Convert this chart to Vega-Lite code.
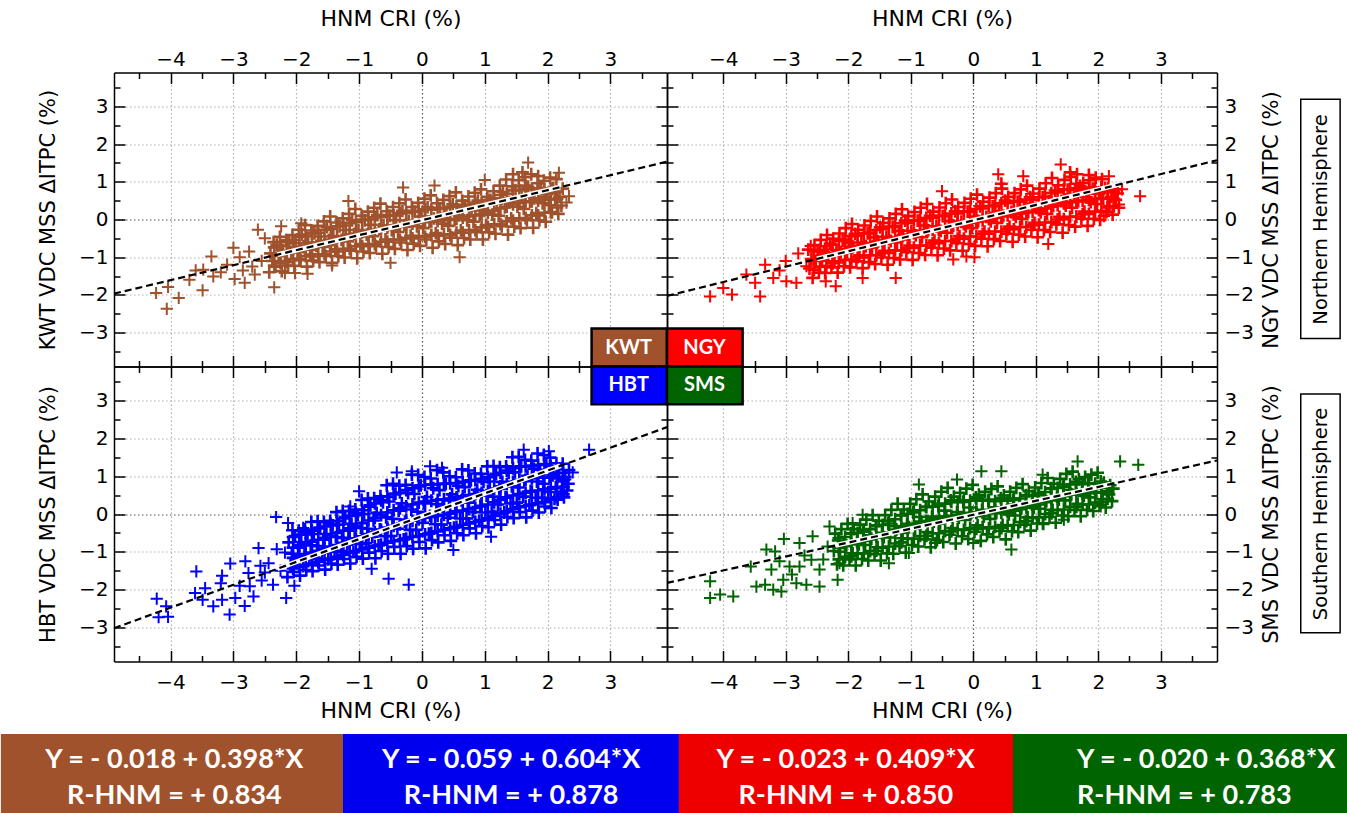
{
"$schema": "https://vega.github.io/schema/vega-lite/v6.json",
"padding": {"left": 0, "top": 7.5, "right": 0, "bottom": 0},
"background": "white",
"bounds": "flush",
"spacing": 0,
"columns": 2,
"config": {
 "view": {"stroke": null},
 "font": "DejaVu Sans",
 "axis": {"labelFont": "DejaVu Sans", "titleFont": "DejaVu Sans", "labelColor": "black", "titleColor": "black", "titleFontWeight": "normal", "domainColor": "black", "domainWidth": 1.5, "tickColor": "black", "tickWidth": 1.5, "labelFontSize": 20, "titleFontSize": 21, "labelOverlap": false, "labelFlush": false, "labelBound": false, "grid": false}
},
"datasets": {
"kwt": [
{"x":-2.43,"y":-1.4},{"x":-2.38,"y":-1.1},{"x":-2.41,"y":-0.9},{"x":-2.36,"y":-0.6},
{"x":-2.33,"y":-1.25},{"x":-2.28,"y":-0.94},{"x":-2.31,"y":-0.67},{"x":-2.26,"y":-0.46},
{"x":-2.23,"y":-1.37},{"x":-2.18,"y":-1.1},{"x":-2.21,"y":-0.83},{"x":-2.16,"y":-0.55},
{"x":-2.13,"y":-1.22},{"x":-2.08,"y":-0.87},{"x":-2.11,"y":-0.59},{"x":-2.06,"y":-0.41},
{"x":-2.03,"y":-1.23},{"x":-1.98,"y":-0.87},{"x":-2.01,"y":-0.63},{"x":-1.96,"y":-0.27},
{"x":-1.93,"y":-1.08},{"x":-1.88,"y":-0.71},{"x":-1.91,"y":-0.4},{"x":-1.86,"y":-0.15},
{"x":-1.83,"y":-1.25},{"x":-1.78,"y":-0.93},{"x":-1.81,"y":-0.61},{"x":-1.76,"y":-0.29},
{"x":-1.73,"y":-1.09},{"x":-1.68,"y":-0.7},{"x":-1.71,"y":-0.37},{"x":-1.66,"y":-0.17},
{"x":-1.63,"y":-1.13},{"x":-1.58,"y":-0.73},{"x":-1.61,"y":-0.45},{"x":-1.56,"y":-0.05},
{"x":-1.53,"y":-0.97},{"x":-1.48,"y":-0.55},{"x":-1.51,"y":-0.2},{"x":-1.46,"y":0.08},
{"x":-1.43,"y":-1.15},{"x":-1.38,"y":-0.79},{"x":-1.41,"y":-0.44},{"x":-1.36,"y":-0.08},
{"x":-1.33,"y":-0.97},{"x":-1.28,"y":-0.54},{"x":-1.31,"y":-0.18},{"x":-1.26,"y":0.03},
{"x":-1.23,"y":-1.01},{"x":-1.18,"y":-0.58},{"x":-1.21,"y":-0.28},{"x":-1.16,"y":0.15},
{"x":-1.13,"y":-0.83},{"x":-1.08,"y":-0.39},{"x":-1.11,"y":-0.02},{"x":-1.06,"y":0.28},
{"x":-1.03,"y":-1.03},{"x":-0.98,"y":-0.65},{"x":-1.01,"y":-0.28},{"x":-0.96,"y":0.1},
{"x":-0.93,"y":-0.85},{"x":-0.88,"y":-0.4},{"x":-0.91,"y":-0.02},{"x":-0.86,"y":0.21},
{"x":-0.83,"y":-0.89},{"x":-0.78,"y":-0.44},{"x":-0.81,"y":-0.14},{"x":-0.76,"y":0.31},
{"x":-0.73,"y":-0.71},{"x":-0.68,"y":-0.26},{"x":-0.71,"y":0.12},{"x":-0.66,"y":0.42},
{"x":-0.63,"y":-0.91},{"x":-0.58,"y":-0.53},{"x":-0.61,"y":-0.16},{"x":-0.56,"y":0.22},
{"x":-0.53,"y":-0.73},{"x":-0.48,"y":-0.28},{"x":-0.51,"y":0.1},{"x":-0.46,"y":0.33},
{"x":-0.43,"y":-0.78},{"x":-0.38,"y":-0.33},{"x":-0.41,"y":-0.02},{"x":-0.36,"y":0.43},
{"x":-0.33,"y":-0.61},{"x":-0.28,"y":-0.15},{"x":-0.31,"y":0.23},{"x":-0.26,"y":0.53},
{"x":-0.23,"y":-0.81},{"x":-0.18,"y":-0.43},{"x":-0.21,"y":-0.05},{"x":-0.16,"y":0.33},
{"x":-0.13,"y":-0.64},{"x":-0.08,"y":-0.18},{"x":-0.11,"y":0.21},{"x":-0.06,"y":0.44},
{"x":-0.03,"y":-0.7},{"x":0.02,"y":-0.23},{"x":-0.01,"y":0.08},{"x":0.04,"y":0.55},
{"x":0.07,"y":-0.53},{"x":0.12,"y":-0.06},{"x":0.09,"y":0.33},{"x":0.14,"y":0.64},
{"x":0.17,"y":-0.75},{"x":0.22,"y":-0.36},{"x":0.19,"y":0.03},{"x":0.24,"y":0.43},
{"x":0.27,"y":-0.58},{"x":0.32,"y":-0.11},{"x":0.29,"y":0.29},{"x":0.34,"y":0.52},
{"x":0.37,"y":-0.65},{"x":0.42,"y":-0.17},{"x":0.39,"y":0.14},{"x":0.44,"y":0.62},
{"x":0.47,"y":-0.48},{"x":0.52,"y":0.0},{"x":0.49,"y":0.4},{"x":0.54,"y":0.72},
{"x":0.57,"y":-0.68},{"x":0.62,"y":-0.29},{"x":0.59,"y":0.11},{"x":0.64,"y":0.5},
{"x":0.67,"y":-0.49},{"x":0.72,"y":-0.02},{"x":0.69,"y":0.37},{"x":0.74,"y":0.61},
{"x":0.77,"y":-0.53},{"x":0.82,"y":-0.06},{"x":0.79,"y":0.24},{"x":0.84,"y":0.71},
{"x":0.87,"y":-0.34},{"x":0.92,"y":0.12},{"x":0.89,"y":0.5},{"x":0.94,"y":0.8},
{"x":0.97,"y":-0.53},{"x":1.02,"y":-0.15},{"x":0.99,"y":0.23},{"x":1.04,"y":0.6},
{"x":1.07,"y":-0.34},{"x":1.12,"y":0.13},{"x":1.09,"y":0.52},{"x":1.14,"y":0.75},
{"x":1.17,"y":-0.38},{"x":1.22,"y":0.1},{"x":1.19,"y":0.42},{"x":1.24,"y":0.9},
{"x":1.27,"y":-0.18},{"x":1.32,"y":0.32},{"x":1.29,"y":0.73},{"x":1.34,"y":1.06},
{"x":1.37,"y":-0.4},{"x":1.42,"y":0.03},{"x":1.39,"y":0.46},{"x":1.44,"y":0.88},
{"x":1.47,"y":-0.19},{"x":1.52,"y":0.34},{"x":1.49,"y":0.78},{"x":1.54,"y":1.04},
{"x":1.57,"y":-0.23},{"x":1.62,"y":0.28},{"x":1.59,"y":0.61},{"x":1.64,"y":1.12},
{"x":1.67,"y":-0.02},{"x":1.72,"y":0.47},{"x":1.69,"y":0.87},{"x":1.74,"y":1.2},
{"x":1.77,"y":-0.22},{"x":1.82,"y":0.17},{"x":1.79,"y":0.56},{"x":1.84,"y":0.96},
{"x":1.87,"y":-0.02},{"x":1.92,"y":0.43},{"x":1.89,"y":0.81},{"x":1.94,"y":1.03},
{"x":1.97,"y":-0.06},{"x":2.02,"y":0.38},{"x":1.99,"y":0.67},{"x":2.04,"y":1.11},
{"x":2.07,"y":0.19},{"x":2.12,"y":0.54},{"x":2.09,"y":0.84},{"x":2.14,"y":1.07},
{"x":2.17,"y":0.15},{"x":2.22,"y":0.37},{"x":2.19,"y":0.6},{"x":2.24,"y":0.82},
{"x":-2.35,"y":-1.22},{"x":-2.35,"y":-0.97},{"x":-2.35,"y":-0.74},
{"x":-2.25,"y":-1.15},{"x":-2.25,"y":-0.91},{"x":-2.25,"y":-0.7},
{"x":-2.15,"y":-1.13},{"x":-2.15,"y":-0.85},{"x":-2.15,"y":-0.6},
{"x":-2.05,"y":-1.05},{"x":-2.05,"y":-0.78},{"x":-2.05,"y":-0.55},
{"x":-1.95,"y":-1.04},{"x":-1.95,"y":-0.73},{"x":-1.95,"y":-0.46},
{"x":-1.85,"y":-0.97},{"x":-1.85,"y":-0.69},{"x":-1.85,"y":-0.44},
{"x":-1.75,"y":-0.98},{"x":-1.75,"y":-0.65},{"x":-1.75,"y":-0.36},
{"x":-1.65,"y":-0.92},{"x":-1.65,"y":-0.61},{"x":-1.65,"y":-0.35},
{"x":-1.55,"y":-0.92},{"x":-1.55,"y":-0.57},{"x":-1.55,"y":-0.27},
{"x":-1.45,"y":-0.85},{"x":-1.45,"y":-0.53},{"x":-1.45,"y":-0.25},
{"x":-1.35,"y":-0.85},{"x":-1.35,"y":-0.49},{"x":-1.35,"y":-0.18},
{"x":-1.25,"y":-0.78},{"x":-1.25,"y":-0.45},{"x":-1.25,"y":-0.16},
{"x":-1.15,"y":-0.78},{"x":-1.15,"y":-0.41},{"x":-1.15,"y":-0.09},
{"x":-1.05,"y":-0.71},{"x":-1.05,"y":-0.37},{"x":-1.05,"y":-0.07},
{"x":-0.95,"y":-0.71},{"x":-0.95,"y":-0.34},{"x":-0.95,"y":0.0},
{"x":-0.85,"y":-0.65},{"x":-0.85,"y":-0.31},{"x":-0.85,"y":0.0},
{"x":-0.75,"y":-0.65},{"x":-0.75,"y":-0.28},{"x":-0.75,"y":0.06},
{"x":-0.65,"y":-0.59},{"x":-0.65,"y":-0.25},{"x":-0.65,"y":0.06},
{"x":-0.55,"y":-0.59},{"x":-0.55,"y":-0.22},{"x":-0.55,"y":0.12},
{"x":-0.45,"y":-0.53},{"x":-0.45,"y":-0.19},{"x":-0.45,"y":0.11},
{"x":-0.35,"y":-0.54},{"x":-0.35,"y":-0.16},{"x":-0.35,"y":0.17},
{"x":-0.25,"y":-0.49},{"x":-0.25,"y":-0.14},{"x":-0.25,"y":0.17},
{"x":-0.15,"y":-0.5},{"x":-0.15,"y":-0.11},{"x":-0.15,"y":0.23},
{"x":-0.05,"y":-0.44},{"x":-0.05,"y":-0.09},{"x":-0.05,"y":0.22},
{"x":0.05,"y":-0.46},{"x":0.05,"y":-0.07},{"x":0.05,"y":0.27},
{"x":0.15,"y":-0.41},{"x":0.15,"y":-0.05},{"x":0.15,"y":0.26},
{"x":0.25,"y":-0.43},{"x":0.25,"y":-0.04},{"x":0.25,"y":0.31},
{"x":0.35,"y":-0.39},{"x":0.35,"y":-0.02},{"x":0.35,"y":0.3},
{"x":0.45,"y":-0.41},{"x":0.45,"y":-0.01},{"x":0.45,"y":0.34},
{"x":0.55,"y":-0.35},{"x":0.55,"y":0.02},{"x":0.55,"y":0.34},
{"x":0.65,"y":-0.35},{"x":0.65,"y":0.05},{"x":0.65,"y":0.39},
{"x":0.75,"y":-0.28},{"x":0.75,"y":0.08},{"x":0.75,"y":0.39},
{"x":0.85,"y":-0.28},{"x":0.85,"y":0.11},{"x":0.85,"y":0.44},
{"x":0.95,"y":-0.21},{"x":0.95,"y":0.14},{"x":0.95,"y":0.44},
{"x":1.05,"y":-0.2},{"x":1.05,"y":0.18},{"x":1.05,"y":0.51},
{"x":1.15,"y":-0.13},{"x":1.15,"y":0.23},{"x":1.15,"y":0.55},
{"x":1.25,"y":-0.12},{"x":1.25,"y":0.29},{"x":1.25,"y":0.65},
{"x":1.35,"y":-0.05},{"x":1.35,"y":0.34},{"x":1.35,"y":0.68},
{"x":1.45,"y":-0.03},{"x":1.45,"y":0.4},{"x":1.45,"y":0.78},
{"x":1.55,"y":0.03},{"x":1.55,"y":0.44},{"x":1.55,"y":0.78},
{"x":1.65,"y":0.04},{"x":1.65,"y":0.46},{"x":1.65,"y":0.82},
{"x":1.75,"y":0.11},{"x":1.75,"y":0.48},{"x":1.75,"y":0.8},
{"x":1.85,"y":0.11},{"x":1.85,"y":0.5},{"x":1.85,"y":0.83},
{"x":1.95,"y":0.18},{"x":1.95,"y":0.52},{"x":1.95,"y":0.81},
{"x":2.05,"y":0.2},{"x":2.05,"y":0.53},{"x":2.05,"y":0.82},
{"x":2.15,"y":0.32},{"x":2.15,"y":0.55},{"x":2.15,"y":0.74},
{"x":-1.75,"y":-0.8},{"x":-1.45,"y":-0.68},{"x":-1.15,"y":-0.4},{"x":-0.85,"y":-0.45},{"x":-0.55,"y":-0.16},{"x":-0.25,"y":-0.2},{"x":0.05,"y":0.08},{"x":0.35,"y":0.04},{"x":0.65,"y":0.32},{"x":0.95,"y":0.28},{"x":1.25,"y":0.56},{"x":1.55,"y":0.52},{"x":1.85,"y":0.8},{"x":2.05,"y":0.72},{"x":1.65,"y":0.9},{"x":1.75,"y":0.7},{"x":1.95,"y":0.6},{"x":1.85,"y":1.15},{"x":1.6,"y":1.25},{"x":1.45,"y":1.2}
],
"kwtOut": [
{"x":-4.23,"y":-1.95},{"x":-4.06,"y":-2.37},{"x":-3.87,"y":-2.08},{"x":-4.04,"y":-1.79},{"x":-3.49,"y":-1.88},{"x":-3.6,"y":-1.35},{"x":-3.48,"y":-1.33},{"x":-3.32,"y":-1.51},{"x":-3.35,"y":-0.98},{"x":-2.98,"y":-1.58},{"x":-2.82,"y":-1.68},{"x":-2.66,"y":-1.46},{"x":-2.35,"y":-1.8},{"x":-2.18,"y":-1.42},{"x":-2.02,"y":-1.42},{"x":-1.82,"y":-1.44},{"x":-1.43,"y":-1.22},{"x":-2.61,"y":-0.27},{"x":-2.24,"y":-0.18},{"x":-1.92,"y":-0.1},{"x":-1.17,"y":0.49},{"x":2.34,"y":0.62},{"x":2.18,"y":1.24},{"x":1.69,"y":1.51},{"x":2.3,"y":0.45},{"x":-3.1,"y":-1.2},{"x":-2.9,"y":-1.0},{"x":-2.75,"y":-0.85},{"x":-3.0,"y":-0.75},{"x":-2.55,"y":-1.1},{"x":-2.7,"y":-1.25},{"x":-3.2,"y":-1.4},{"x":-3.7,"y":-1.6},{"x":-0.3,"y":0.85},{"x":0.6,"y":-1.0},{"x":-0.5,"y":-1.15},{"x":1.0,"y":1.05},{"x":0.2,"y":0.9},{"x":-2.5,"y":-0.5},{"x":-2.85,"y":-1.35}
],
"ngy": [
{"x":-2.57,"y":-1.55},{"x":-2.62,"y":-1.3},{"x":-2.59,"y":-1.05},{"x":-2.64,"y":-0.8},
{"x":-2.47,"y":-1.41},{"x":-2.52,"y":-1.1},{"x":-2.49,"y":-0.84},{"x":-2.54,"y":-0.68},
{"x":-2.37,"y":-1.42},{"x":-2.42,"y":-1.09},{"x":-2.39,"y":-0.87},{"x":-2.44,"y":-0.54},
{"x":-2.27,"y":-1.27},{"x":-2.32,"y":-0.93},{"x":-2.29,"y":-0.64},{"x":-2.34,"y":-0.41},
{"x":-2.17,"y":-1.41},{"x":-2.22,"y":-1.11},{"x":-2.19,"y":-0.81},{"x":-2.24,"y":-0.51},
{"x":-2.07,"y":-1.24},{"x":-2.12,"y":-0.87},{"x":-2.09,"y":-0.56},{"x":-2.14,"y":-0.37},
{"x":-1.97,"y":-1.27},{"x":-2.02,"y":-0.88},{"x":-1.99,"y":-0.62},{"x":-2.04,"y":-0.23},
{"x":-1.87,"y":-1.11},{"x":-1.92,"y":-0.72},{"x":-1.89,"y":-0.38},{"x":-1.94,"y":-0.12},
{"x":-1.77,"y":-1.29},{"x":-1.82,"y":-0.95},{"x":-1.79,"y":-0.61},{"x":-1.84,"y":-0.27},
{"x":-1.67,"y":-1.13},{"x":-1.72,"y":-0.71},{"x":-1.69,"y":-0.37},{"x":-1.74,"y":-0.16},
{"x":-1.57,"y":-1.18},{"x":-1.62,"y":-0.75},{"x":-1.59,"y":-0.47},{"x":-1.64,"y":-0.04},
{"x":-1.47,"y":-1.01},{"x":-1.52,"y":-0.58},{"x":-1.49,"y":-0.21},{"x":-1.54,"y":0.08},
{"x":-1.37,"y":-1.2},{"x":-1.42,"y":-0.83},{"x":-1.39,"y":-0.46},{"x":-1.44,"y":-0.09},
{"x":-1.27,"y":-1.02},{"x":-1.32,"y":-0.57},{"x":-1.29,"y":-0.2},{"x":-1.34,"y":0.03},
{"x":-1.17,"y":-1.06},{"x":-1.22,"y":-0.61},{"x":-1.19,"y":-0.3},{"x":-1.24,"y":0.15},
{"x":-1.07,"y":-0.87},{"x":-1.12,"y":-0.42},{"x":-1.09,"y":-0.03},{"x":-1.14,"y":0.27},
{"x":-0.97,"y":-1.07},{"x":-1.02,"y":-0.69},{"x":-0.99,"y":-0.3},{"x":-1.04,"y":0.09},
{"x":-0.87,"y":-0.89},{"x":-0.92,"y":-0.42},{"x":-0.89,"y":-0.03},{"x":-0.94,"y":0.2},
{"x":-0.77,"y":-0.94},{"x":-0.82,"y":-0.47},{"x":-0.79,"y":-0.16},{"x":-0.84,"y":0.31},
{"x":-0.67,"y":-0.75},{"x":-0.72,"y":-0.28},{"x":-0.69,"y":0.1},{"x":-0.74,"y":0.41},
{"x":-0.57,"y":-0.95},{"x":-0.62,"y":-0.56},{"x":-0.59,"y":-0.18},{"x":-0.64,"y":0.21},
{"x":-0.47,"y":-0.77},{"x":-0.52,"y":-0.3},{"x":-0.49,"y":0.09},{"x":-0.54,"y":0.32},
{"x":-0.37,"y":-0.82},{"x":-0.42,"y":-0.35},{"x":-0.39,"y":-0.04},{"x":-0.44,"y":0.43},
{"x":-0.27,"y":-0.63},{"x":-0.32,"y":-0.16},{"x":-0.29,"y":0.22},{"x":-0.34,"y":0.53},
{"x":-0.17,"y":-0.83},{"x":-0.22,"y":-0.44},{"x":-0.19,"y":-0.06},{"x":-0.24,"y":0.33},
{"x":-0.07,"y":-0.65},{"x":-0.12,"y":-0.18},{"x":-0.09,"y":0.21},{"x":-0.14,"y":0.44},
{"x":0.03,"y":-0.7},{"x":-0.02,"y":-0.23},{"x":0.01,"y":0.08},{"x":-0.04,"y":0.55},
{"x":0.13,"y":-0.51},{"x":0.08,"y":-0.04},{"x":0.11,"y":0.35},{"x":0.06,"y":0.66},
{"x":0.23,"y":-0.71},{"x":0.18,"y":-0.32},{"x":0.21,"y":0.07},{"x":0.16,"y":0.47},
{"x":0.33,"y":-0.52},{"x":0.28,"y":-0.05},{"x":0.31,"y":0.35},{"x":0.26,"y":0.58},
{"x":0.43,"y":-0.57},{"x":0.38,"y":-0.09},{"x":0.41,"y":0.22},{"x":0.36,"y":0.7},
{"x":0.53,"y":-0.38},{"x":0.48,"y":0.1},{"x":0.51,"y":0.5},{"x":0.46,"y":0.82},
{"x":0.63,"y":-0.59},{"x":0.58,"y":-0.19},{"x":0.61,"y":0.2},{"x":0.56,"y":0.6},
{"x":0.73,"y":-0.4},{"x":0.68,"y":0.07},{"x":0.71,"y":0.47},{"x":0.66,"y":0.7},
{"x":0.83,"y":-0.45},{"x":0.78,"y":0.02},{"x":0.81,"y":0.33},{"x":0.76,"y":0.8},
{"x":0.93,"y":-0.27},{"x":0.88,"y":0.2},{"x":0.91,"y":0.59},{"x":0.86,"y":0.9},
{"x":1.03,"y":-0.47},{"x":0.98,"y":-0.09},{"x":1.01,"y":0.3},{"x":0.96,"y":0.69},
{"x":1.13,"y":-0.28},{"x":1.08,"y":0.19},{"x":1.11,"y":0.59},{"x":1.06,"y":0.82},
{"x":1.23,"y":-0.33},{"x":1.18,"y":0.15},{"x":1.21,"y":0.48},{"x":1.16,"y":0.96},
{"x":1.33,"y":-0.13},{"x":1.28,"y":0.36},{"x":1.31,"y":0.77},{"x":1.26,"y":1.1},
{"x":1.43,"y":-0.35},{"x":1.38,"y":0.07},{"x":1.41,"y":0.49},{"x":1.36,"y":0.91},
{"x":1.53,"y":-0.15},{"x":1.48,"y":0.37},{"x":1.51,"y":0.79},{"x":1.46,"y":1.05},
{"x":1.63,"y":-0.19},{"x":1.58,"y":0.31},{"x":1.61,"y":0.63},{"x":1.56,"y":1.13},
{"x":1.73,"y":0.02},{"x":1.68,"y":0.49},{"x":1.71,"y":0.89},{"x":1.66,"y":1.2},
{"x":1.83,"y":-0.17},{"x":1.78,"y":0.21},{"x":1.81,"y":0.59},{"x":1.76,"y":0.97},
{"x":1.93,"y":0.02},{"x":1.88,"y":0.46},{"x":1.91,"y":0.82},{"x":1.86,"y":1.04},
{"x":2.03,"y":-0.01},{"x":1.98,"y":0.41},{"x":2.01,"y":0.69},{"x":1.96,"y":1.11},
{"x":2.13,"y":0.2},{"x":2.08,"y":0.55},{"x":2.11,"y":0.84},{"x":2.06,"y":1.07},
{"x":2.23,"y":0.13},{"x":2.18,"y":0.36},{"x":2.21,"y":0.6},{"x":2.16,"y":0.83},
{"x":2.33,"y":0.31},{"x":2.28,"y":0.52},{"x":2.31,"y":0.69},{"x":2.26,"y":0.8},
{"x":-2.55,"y":-1.33},{"x":-2.55,"y":-1.07},{"x":-2.55,"y":-0.85},
{"x":-2.45,"y":-1.25},{"x":-2.45,"y":-1.01},{"x":-2.45,"y":-0.81},
{"x":-2.35,"y":-1.23},{"x":-2.35,"y":-0.95},{"x":-2.35,"y":-0.71},
{"x":-2.25,"y":-1.16},{"x":-2.25,"y":-0.9},{"x":-2.25,"y":-0.67},
{"x":-2.15,"y":-1.14},{"x":-2.15,"y":-0.84},{"x":-2.15,"y":-0.57},
{"x":-2.05,"y":-1.07},{"x":-2.05,"y":-0.78},{"x":-2.05,"y":-0.53},
{"x":-1.95,"y":-1.06},{"x":-1.95,"y":-0.73},{"x":-1.95,"y":-0.44},
{"x":-1.85,"y":-1.0},{"x":-1.85,"y":-0.7},{"x":-1.85,"y":-0.43},
{"x":-1.75,"y":-1.01},{"x":-1.75,"y":-0.66},{"x":-1.75,"y":-0.36},
{"x":-1.65,"y":-0.95},{"x":-1.65,"y":-0.63},{"x":-1.65,"y":-0.35},
{"x":-1.55,"y":-0.95},{"x":-1.55,"y":-0.59},{"x":-1.55,"y":-0.28},
{"x":-1.45,"y":-0.89},{"x":-1.45,"y":-0.56},{"x":-1.45,"y":-0.26},
{"x":-1.35,"y":-0.89},{"x":-1.35,"y":-0.52},{"x":-1.35,"y":-0.19},
{"x":-1.25,"y":-0.82},{"x":-1.25,"y":-0.48},{"x":-1.25,"y":-0.18},
{"x":-1.15,"y":-0.82},{"x":-1.15,"y":-0.44},{"x":-1.15,"y":-0.1},
{"x":-1.05,"y":-0.75},{"x":-1.05,"y":-0.4},{"x":-1.05,"y":-0.09},
{"x":-0.95,"y":-0.75},{"x":-0.95,"y":-0.36},{"x":-0.95,"y":-0.02},
{"x":-0.85,"y":-0.69},{"x":-0.85,"y":-0.33},{"x":-0.85,"y":-0.02},
{"x":-0.75,"y":-0.69},{"x":-0.75,"y":-0.3},{"x":-0.75,"y":0.04},
{"x":-0.65,"y":-0.63},{"x":-0.65,"y":-0.27},{"x":-0.65,"y":0.04},
{"x":-0.55,"y":-0.63},{"x":-0.55,"y":-0.24},{"x":-0.55,"y":0.1},
{"x":-0.45,"y":-0.57},{"x":-0.45,"y":-0.21},{"x":-0.45,"y":0.1},
{"x":-0.35,"y":-0.57},{"x":-0.35,"y":-0.18},{"x":-0.35,"y":0.16},
{"x":-0.25,"y":-0.51},{"x":-0.25,"y":-0.15},{"x":-0.25,"y":0.16},
{"x":-0.15,"y":-0.51},{"x":-0.15,"y":-0.12},{"x":-0.15,"y":0.22},
{"x":-0.05,"y":-0.45},{"x":-0.05,"y":-0.09},{"x":-0.05,"y":0.22},
{"x":0.05,"y":-0.45},{"x":0.05,"y":-0.06},{"x":0.05,"y":0.28},
{"x":0.15,"y":-0.38},{"x":0.15,"y":-0.02},{"x":0.15,"y":0.29},
{"x":0.25,"y":-0.38},{"x":0.25,"y":0.01},{"x":0.25,"y":0.36},
{"x":0.35,"y":-0.32},{"x":0.35,"y":0.05},{"x":0.35,"y":0.37},
{"x":0.45,"y":-0.32},{"x":0.45,"y":0.08},{"x":0.45,"y":0.43},
{"x":0.55,"y":-0.26},{"x":0.55,"y":0.11},{"x":0.55,"y":0.43},
{"x":0.65,"y":-0.26},{"x":0.65,"y":0.14},{"x":0.65,"y":0.49},
{"x":0.75,"y":-0.2},{"x":0.75,"y":0.16},{"x":0.75,"y":0.48},
{"x":0.85,"y":-0.2},{"x":0.85,"y":0.19},{"x":0.85,"y":0.53},
{"x":0.95,"y":-0.15},{"x":0.95,"y":0.21},{"x":0.95,"y":0.52},
{"x":1.05,"y":-0.14},{"x":1.05,"y":0.25},{"x":1.05,"y":0.59},
{"x":1.15,"y":-0.08},{"x":1.15,"y":0.29},{"x":1.15,"y":0.61},
{"x":1.25,"y":-0.07},{"x":1.25,"y":0.34},{"x":1.25,"y":0.7},
{"x":1.35,"y":0.0},{"x":1.35,"y":0.38},{"x":1.35,"y":0.72},
{"x":1.45,"y":0.01},{"x":1.45,"y":0.43},{"x":1.45,"y":0.8},
{"x":1.55,"y":0.07},{"x":1.55,"y":0.46},{"x":1.55,"y":0.8},
{"x":1.65,"y":0.08},{"x":1.65,"y":0.48},{"x":1.65,"y":0.83},
{"x":1.75,"y":0.14},{"x":1.75,"y":0.5},{"x":1.75,"y":0.81},
{"x":1.85,"y":0.15},{"x":1.85,"y":0.52},{"x":1.85,"y":0.85},
{"x":1.95,"y":0.21},{"x":1.95,"y":0.54},{"x":1.95,"y":0.82},
{"x":2.05,"y":0.23},{"x":2.05,"y":0.55},{"x":2.05,"y":0.83},
{"x":2.15,"y":0.32},{"x":2.15,"y":0.55},{"x":2.15,"y":0.75},
{"x":2.25,"y":0.35},{"x":2.25,"y":0.55},{"x":2.25,"y":0.73},
{"x":-1.75,"y":-0.76},{"x":-1.45,"y":-0.55},{"x":-1.15,"y":-0.53},{"x":-0.85,"y":-0.3},{"x":-0.55,"y":-0.28},{"x":-0.25,"y":-0.06},{"x":0.05,"y":-0.05},{"x":0.35,"y":0.18},{"x":0.65,"y":0.2},{"x":0.95,"y":0.42},{"x":1.25,"y":0.45},{"x":1.55,"y":0.66},{"x":1.85,"y":0.7},{"x":2.05,"y":0.85},{"x":1.65,"y":0.95},{"x":1.75,"y":0.75},{"x":1.95,"y":0.55},{"x":1.85,"y":1.18},{"x":1.55,"y":1.25},{"x":0.45,"y":0.95}
],
"ngyOut": [
{"x":-4.21,"y":-2.04},{"x":-3.86,"y":-1.99},{"x":-4.0,"y":-1.82},{"x":-3.63,"y":-1.46},{"x":-3.49,"y":-1.68},{"x":-3.41,"y":-2.04},{"x":-3.33,"y":-1.2},{"x":-3.2,"y":-1.55},{"x":-2.99,"y":-1.64},{"x":-2.83,"y":-1.68},{"x":-2.67,"y":-1.24},{"x":-2.36,"y":-1.64},{"x":-2.2,"y":-1.77},{"x":-1.77,"y":-1.55},{"x":-1.24,"y":-1.55},{"x":-0.32,"y":-1.06},{"x":-0.11,"y":-0.98},{"x":0.02,"y":-1.0},{"x":0.4,"y":1.2},{"x":1.4,"y":1.46},{"x":2.17,"y":1.15},{"x":2.38,"y":0.8},{"x":2.67,"y":0.62},{"x":2.33,"y":0.4},{"x":2.09,"y":0.09},{"x":-3.0,"y":-1.1},{"x":-2.8,"y":-0.9},{"x":-3.1,"y":-1.35},{"x":-2.6,"y":-0.7},{"x":0.8,"y":1.15},{"x":-0.5,"y":0.75},{"x":1.2,"y":-0.65}
],
"hbt": [
{"x":-2.14,"y":-1.67},{"x":-2.09,"y":-1.35},{"x":-2.07,"y":-1.05},{"x":-2.12,"y":-0.75},{"x":-2.06,"y":-0.43},
{"x":-2.04,"y":-1.53},{"x":-1.99,"y":-1.21},{"x":-1.97,"y":-0.89},{"x":-2.02,"y":-0.58},{"x":-1.96,"y":-0.44},
{"x":-1.94,"y":-1.63},{"x":-1.89,"y":-1.38},{"x":-1.87,"y":-1.06},{"x":-1.92,"y":-0.74},{"x":-1.86,"y":-0.41},
{"x":-1.84,"y":-1.48},{"x":-1.79,"y":-1.19},{"x":-1.77,"y":-0.83},{"x":-1.82,"y":-0.54},{"x":-1.76,"y":-0.21},
{"x":-1.74,"y":-1.51},{"x":-1.69,"y":-1.17},{"x":-1.67,"y":-0.85},{"x":-1.72,"y":-0.53},{"x":-1.66,"y":-0.19},
{"x":-1.64,"y":-1.36},{"x":-1.59,"y":-1.02},{"x":-1.57,"y":-0.68},{"x":-1.62,"y":-0.36},{"x":-1.56,"y":-0.21},
{"x":-1.54,"y":-1.47},{"x":-1.49,"y":-1.2},{"x":-1.47,"y":-0.87},{"x":-1.52,"y":-0.53},{"x":-1.46,"y":-0.18},
{"x":-1.44,"y":-1.31},{"x":-1.39,"y":-1.0},{"x":-1.37,"y":-0.61},{"x":-1.42,"y":-0.3},{"x":-1.36,"y":0.05},
{"x":-1.34,"y":-1.34},{"x":-1.29,"y":-0.98},{"x":-1.27,"y":-0.63},{"x":-1.32,"y":-0.28},{"x":-1.26,"y":0.08},
{"x":-1.24,"y":-1.19},{"x":-1.19,"y":-0.81},{"x":-1.17,"y":-0.44},{"x":-1.22,"y":-0.08},{"x":-1.16,"y":0.08},
{"x":-1.14,"y":-1.31},{"x":-1.09,"y":-1.01},{"x":-1.07,"y":-0.64},{"x":-1.12,"y":-0.26},{"x":-1.06,"y":0.12},
{"x":-1.04,"y":-1.13},{"x":-0.99,"y":-0.79},{"x":-0.97,"y":-0.37},{"x":-1.02,"y":-0.03},{"x":-0.96,"y":0.37},
{"x":-0.94,"y":-1.18},{"x":-0.89,"y":-0.77},{"x":-0.87,"y":-0.39},{"x":-0.92,"y":0.0},{"x":-0.86,"y":0.41},
{"x":-0.84,"y":-1.02},{"x":-0.79,"y":-0.6},{"x":-0.77,"y":-0.17},{"x":-0.82,"y":0.23},{"x":-0.76,"y":0.42},
{"x":-0.74,"y":-1.17},{"x":-0.69,"y":-0.83},{"x":-0.67,"y":-0.41},{"x":-0.72,"y":0.03},{"x":-0.66,"y":0.47},
{"x":-0.64,"y":-0.98},{"x":-0.59,"y":-0.59},{"x":-0.57,"y":-0.09},{"x":-0.62,"y":0.31},{"x":-0.56,"y":0.76},
{"x":-0.54,"y":-1.05},{"x":-0.49,"y":-0.58},{"x":-0.47,"y":-0.13},{"x":-0.52,"y":0.33},{"x":-0.46,"y":0.8},
{"x":-0.44,"y":-0.87},{"x":-0.39,"y":-0.39},{"x":-0.37,"y":0.09},{"x":-0.42,"y":0.54},{"x":-0.36,"y":0.75},
{"x":-0.34,"y":-1.05},{"x":-0.29,"y":-0.67},{"x":-0.27,"y":-0.2},{"x":-0.32,"y":0.28},{"x":-0.26,"y":0.77},
{"x":-0.24,"y":-0.85},{"x":-0.19,"y":-0.42},{"x":-0.17,"y":0.12},{"x":-0.22,"y":0.55},{"x":-0.16,"y":1.04},
{"x":-0.14,"y":-0.92},{"x":-0.09,"y":-0.42},{"x":-0.07,"y":0.06},{"x":-0.12,"y":0.53},{"x":-0.06,"y":1.03},
{"x":-0.04,"y":-0.74},{"x":0.01,"y":-0.23},{"x":0.03,"y":0.28},{"x":-0.02,"y":0.76},{"x":0.04,"y":0.98},
{"x":0.06,"y":-0.91},{"x":0.11,"y":-0.52},{"x":0.13,"y":-0.05},{"x":0.08,"y":0.45},{"x":0.14,"y":0.94},
{"x":0.16,"y":-0.69},{"x":0.21,"y":-0.27},{"x":0.23,"y":0.26},{"x":0.18,"y":0.68},{"x":0.24,"y":1.16},
{"x":0.26,"y":-0.75},{"x":0.31,"y":-0.28},{"x":0.33,"y":0.18},{"x":0.28,"y":0.63},{"x":0.34,"y":1.1},
{"x":0.36,"y":-0.56},{"x":0.41,"y":-0.1},{"x":0.43,"y":0.36},{"x":0.38,"y":0.8},{"x":0.44,"y":1.0},
{"x":0.46,"y":-0.71},{"x":0.51,"y":-0.36},{"x":0.53,"y":0.07},{"x":0.48,"y":0.52},{"x":0.54,"y":0.97},
{"x":0.56,"y":-0.51},{"x":0.61,"y":-0.12},{"x":0.63,"y":0.36},{"x":0.58,"y":0.74},{"x":0.64,"y":1.18},
{"x":0.66,"y":-0.56},{"x":0.71,"y":-0.12},{"x":0.73,"y":0.3},{"x":0.68,"y":0.71},{"x":0.74,"y":1.15},
{"x":0.76,"y":-0.38},{"x":0.81,"y":0.05},{"x":0.83,"y":0.48},{"x":0.78,"y":0.89},{"x":0.84,"y":1.07},
{"x":0.86,"y":-0.51},{"x":0.91,"y":-0.18},{"x":0.93,"y":0.22},{"x":0.88,"y":0.64},{"x":0.94,"y":1.06},
{"x":0.96,"y":-0.32},{"x":1.01,"y":0.04},{"x":1.03,"y":0.49},{"x":0.98,"y":0.85},{"x":1.04,"y":1.26},
{"x":1.06,"y":-0.35},{"x":1.11,"y":0.06},{"x":1.13,"y":0.46},{"x":1.08,"y":0.86},{"x":1.14,"y":1.27},
{"x":1.16,"y":-0.16},{"x":1.21,"y":0.25},{"x":1.23,"y":0.66},{"x":1.18,"y":1.06},{"x":1.24,"y":1.24},
{"x":1.26,"y":-0.28},{"x":1.31,"y":0.04},{"x":1.33,"y":0.44},{"x":1.28,"y":0.85},{"x":1.34,"y":1.26},
{"x":1.36,"y":-0.08},{"x":1.41,"y":0.28},{"x":1.43,"y":0.73},{"x":1.38,"y":1.09},{"x":1.44,"y":1.5},
{"x":1.46,"y":-0.11},{"x":1.51,"y":0.3},{"x":1.53,"y":0.7},{"x":1.48,"y":1.1},{"x":1.54,"y":1.51},
{"x":1.56,"y":0.05},{"x":1.61,"y":0.46},{"x":1.63,"y":0.87},{"x":1.58,"y":1.26},{"x":1.64,"y":1.43},
{"x":1.66,"y":-0.09},{"x":1.71,"y":0.23},{"x":1.73,"y":0.61},{"x":1.68,"y":1.01},{"x":1.74,"y":1.41},
{"x":1.76,"y":0.09},{"x":1.81,"y":0.43},{"x":1.83,"y":0.86},{"x":1.78,"y":1.2},{"x":1.84,"y":1.6},
{"x":1.86,"y":0.04},{"x":1.91,"y":0.43},{"x":1.93,"y":0.8},{"x":1.88,"y":1.17},{"x":1.94,"y":1.56},
{"x":1.96,"y":0.2},{"x":2.01,"y":0.58},{"x":2.03,"y":0.96},{"x":1.98,"y":1.32},{"x":2.04,"y":1.49},
{"x":2.06,"y":0.16},{"x":2.11,"y":0.4},{"x":2.13,"y":0.71},{"x":2.08,"y":1.02},{"x":2.14,"y":1.34},
{"x":2.16,"y":0.38},{"x":2.21,"y":0.59},{"x":2.23,"y":0.86},{"x":2.18,"y":1.08},{"x":2.24,"y":1.33},
{"x":2.26,"y":0.44},{"x":2.31,"y":0.62},{"x":2.33,"y":0.8},{"x":2.28,"y":0.98},{"x":2.34,"y":1.16},
{"x":-2.05,"y":-1.44},{"x":-2.05,"y":-1.16},{"x":-2.05,"y":-0.89},{"x":-2.05,"y":-0.61},
{"x":-1.95,"y":-1.4},{"x":-1.95,"y":-1.12},{"x":-1.95,"y":-0.83},{"x":-1.95,"y":-0.55},
{"x":-1.85,"y":-1.35},{"x":-1.85,"y":-1.07},{"x":-1.85,"y":-0.78},{"x":-1.85,"y":-0.5},
{"x":-1.75,"y":-1.31},{"x":-1.75,"y":-1.02},{"x":-1.75,"y":-0.73},{"x":-1.75,"y":-0.44},
{"x":-1.65,"y":-1.27},{"x":-1.65,"y":-0.97},{"x":-1.65,"y":-0.68},{"x":-1.65,"y":-0.38},
{"x":-1.55,"y":-1.22},{"x":-1.55,"y":-0.92},{"x":-1.55,"y":-0.63},{"x":-1.55,"y":-0.33},
{"x":-1.45,"y":-1.18},{"x":-1.45,"y":-0.87},{"x":-1.45,"y":-0.57},{"x":-1.45,"y":-0.26},
{"x":-1.35,"y":-1.13},{"x":-1.35,"y":-0.82},{"x":-1.35,"y":-0.5},{"x":-1.35,"y":-0.19},
{"x":-1.25,"y":-1.08},{"x":-1.25,"y":-0.76},{"x":-1.25,"y":-0.44},{"x":-1.25,"y":-0.12},
{"x":-1.15,"y":-1.03},{"x":-1.15,"y":-0.7},{"x":-1.15,"y":-0.38},{"x":-1.15,"y":-0.05},
{"x":-1.05,"y":-0.98},{"x":-1.05,"y":-0.65},{"x":-1.05,"y":-0.31},{"x":-1.05,"y":0.02},
{"x":-0.95,"y":-0.94},{"x":-0.95,"y":-0.59},{"x":-0.95,"y":-0.24},{"x":-0.95,"y":0.1},
{"x":-0.85,"y":-0.89},{"x":-0.85,"y":-0.53},{"x":-0.85,"y":-0.17},{"x":-0.85,"y":0.19},
{"x":-0.75,"y":-0.85},{"x":-0.75,"y":-0.48},{"x":-0.75,"y":-0.1},{"x":-0.75,"y":0.28},
{"x":-0.65,"y":-0.81},{"x":-0.65,"y":-0.42},{"x":-0.65,"y":-0.03},{"x":-0.65,"y":0.36},
{"x":-0.55,"y":-0.76},{"x":-0.55,"y":-0.36},{"x":-0.55,"y":0.04},{"x":-0.55,"y":0.45},
{"x":-0.45,"y":-0.72},{"x":-0.45,"y":-0.31},{"x":-0.45,"y":0.1},{"x":-0.45,"y":0.52},
{"x":-0.35,"y":-0.69},{"x":-0.35,"y":-0.27},{"x":-0.35,"y":0.15},{"x":-0.35,"y":0.57},
{"x":-0.25,"y":-0.65},{"x":-0.25,"y":-0.23},{"x":-0.25,"y":0.2},{"x":-0.25,"y":0.63},
{"x":-0.15,"y":-0.61},{"x":-0.15,"y":-0.18},{"x":-0.15,"y":0.25},{"x":-0.15,"y":0.68},
{"x":-0.05,"y":-0.58},{"x":-0.05,"y":-0.14},{"x":-0.05,"y":0.3},{"x":-0.05,"y":0.73},
{"x":0.05,"y":-0.54},{"x":0.05,"y":-0.1},{"x":0.05,"y":0.33},{"x":0.05,"y":0.77},
{"x":0.15,"y":-0.5},{"x":0.15,"y":-0.08},{"x":0.15,"y":0.35},{"x":0.15,"y":0.78},
{"x":0.25,"y":-0.46},{"x":0.25,"y":-0.05},{"x":0.25,"y":0.37},{"x":0.25,"y":0.79},
{"x":0.35,"y":-0.42},{"x":0.35,"y":-0.02},{"x":0.35,"y":0.39},{"x":0.35,"y":0.8},
{"x":0.45,"y":-0.38},{"x":0.45,"y":0.01},{"x":0.45,"y":0.41},{"x":0.45,"y":0.81},
{"x":0.55,"y":-0.34},{"x":0.55,"y":0.05},{"x":0.55,"y":0.44},{"x":0.55,"y":0.82},
{"x":0.65,"y":-0.29},{"x":0.65,"y":0.09},{"x":0.65,"y":0.47},{"x":0.65,"y":0.85},
{"x":0.75,"y":-0.25},{"x":0.75,"y":0.13},{"x":0.75,"y":0.5},{"x":0.75,"y":0.88},
{"x":0.85,"y":-0.21},{"x":0.85,"y":0.16},{"x":0.85,"y":0.53},{"x":0.85,"y":0.9},
{"x":0.95,"y":-0.16},{"x":0.95,"y":0.2},{"x":0.95,"y":0.56},{"x":0.95,"y":0.93},
{"x":1.05,"y":-0.11},{"x":1.05,"y":0.25},{"x":1.05,"y":0.61},{"x":1.05,"y":0.97},
{"x":1.15,"y":-0.05},{"x":1.15,"y":0.31},{"x":1.15,"y":0.67},{"x":1.15,"y":1.03},
{"x":1.25,"y":0.01},{"x":1.25,"y":0.37},{"x":1.25,"y":0.73},{"x":1.25,"y":1.09},
{"x":1.35,"y":0.07},{"x":1.35,"y":0.43},{"x":1.35,"y":0.79},{"x":1.35,"y":1.15},
{"x":1.45,"y":0.13},{"x":1.45,"y":0.49},{"x":1.45,"y":0.85},{"x":1.45,"y":1.21},
{"x":1.55,"y":0.18},{"x":1.55,"y":0.53},{"x":1.55,"y":0.89},{"x":1.55,"y":1.25},
{"x":1.65,"y":0.21},{"x":1.65,"y":0.56},{"x":1.65,"y":0.91},{"x":1.65,"y":1.26},
{"x":1.75,"y":0.25},{"x":1.75,"y":0.59},{"x":1.75,"y":0.94},{"x":1.75,"y":1.28},
{"x":1.85,"y":0.28},{"x":1.85,"y":0.62},{"x":1.85,"y":0.96},{"x":1.85,"y":1.3},
{"x":1.95,"y":0.31},{"x":1.95,"y":0.65},{"x":1.95,"y":0.98},{"x":1.95,"y":1.31},
{"x":2.05,"y":0.37},{"x":2.05,"y":0.67},{"x":2.05,"y":0.97},{"x":2.05,"y":1.27},
{"x":2.15,"y":0.45},{"x":2.15,"y":0.69},{"x":2.15,"y":0.94},{"x":2.15,"y":1.18},
{"x":2.25,"y":0.52},{"x":2.25,"y":0.71},{"x":2.25,"y":0.9},{"x":2.25,"y":1.09},
{"x":-1.75,"y":-1.1},{"x":-1.45,"y":-0.9},{"x":-1.15,"y":-0.75},{"x":-0.85,"y":-0.55},{"x":-0.55,"y":-0.4},{"x":-0.25,"y":-0.15},{"x":0.05,"y":0.0},{"x":0.35,"y":0.2},{"x":0.65,"y":0.38},{"x":0.95,"y":0.5},{"x":1.25,"y":0.7},{"x":1.55,"y":0.9},{"x":1.85,"y":1.0},{"x":2.05,"y":1.15}
],
"hbtOut": [
{"x":-4.22,"y":-2.24},{"x":-4.19,"y":-2.73},{"x":-4.04,"y":-2.72},{"x":-4.07,"y":-2.44},{"x":-3.59,"y":-1.52},{"x":-3.61,"y":-2.09},{"x":-3.45,"y":-1.96},{"x":-3.49,"y":-2.27},{"x":-3.32,"y":-2.44},{"x":-3.18,"y":-1.63},{"x":-3.2,"y":-1.83},{"x":-3.18,"y":-2.27},{"x":-3.06,"y":-2.66},{"x":-3.05,"y":-1.31},{"x":-2.97,"y":-2.22},{"x":-2.82,"y":-2.43},{"x":-2.81,"y":-1.25},{"x":-2.76,"y":-1.56},{"x":-2.74,"y":-1.91},{"x":-2.68,"y":-2.18},{"x":-2.6,"y":-0.9},{"x":-2.57,"y":-1.37},{"x":-2.55,"y":-1.76},{"x":-2.44,"y":-1.3},{"x":-2.37,"y":-1.87},{"x":-2.32,"y":-0.08},{"x":-2.31,"y":-0.93},{"x":-2.18,"y":-1.02},{"x":-2.16,"y":-2.22},{"x":-2.13,"y":-0.24},{"x":-2.03,"y":-1.9},{"x":-1.89,"y":-0.37},{"x":-0.53,"y":-1.71},{"x":-0.21,"y":-1.87},{"x":-1.14,"y":0.2},{"x":-0.16,"y":1.13},{"x":0.13,"y":1.26},{"x":0.32,"y":1.22},{"x":2.66,"y":1.7},{"x":2.28,"y":0.91},{"x":2.02,"y":1.66},{"x":1.62,"y":1.7},{"x":-2.9,"y":-1.9},{"x":-2.5,"y":-1.55},{"x":-2.25,"y":-1.5},{"x":-0.8,"y":-1.45},{"x":-1.0,"y":0.6},{"x":1.1,"y":-0.6},{"x":0.5,"y":-0.95},{"x":-0.4,"y":1.1},{"x":2.4,"y":1.1}
],
"sms": [
{"x":-2.18,"y":-1.33},{"x":-2.23,"y":-0.98},{"x":-2.16,"y":-0.7},{"x":-2.21,"y":-0.52},
{"x":-2.08,"y":-1.36},{"x":-2.13,"y":-1.0},{"x":-2.06,"y":-0.76},{"x":-2.11,"y":-0.4},
{"x":-1.98,"y":-1.2},{"x":-2.03,"y":-0.83},{"x":-1.96,"y":-0.51},{"x":-2.01,"y":-0.26},
{"x":-1.88,"y":-1.36},{"x":-1.93,"y":-1.04},{"x":-1.86,"y":-0.72},{"x":-1.91,"y":-0.4},
{"x":-1.78,"y":-1.19},{"x":-1.83,"y":-0.8},{"x":-1.76,"y":-0.47},{"x":-1.81,"y":-0.28},
{"x":-1.68,"y":-1.23},{"x":-1.73,"y":-0.82},{"x":-1.66,"y":-0.56},{"x":-1.71,"y":-0.15},
{"x":-1.58,"y":-1.06},{"x":-1.63,"y":-0.65},{"x":-1.56,"y":-0.3},{"x":-1.61,"y":-0.03},
{"x":-1.48,"y":-1.23},{"x":-1.53,"y":-0.88},{"x":-1.46,"y":-0.53},{"x":-1.51,"y":-0.18},
{"x":-1.38,"y":-1.04},{"x":-1.43,"y":-0.61},{"x":-1.36,"y":-0.25},{"x":-1.41,"y":-0.03},
{"x":-1.28,"y":-1.05},{"x":-1.33,"y":-0.62},{"x":-1.26,"y":-0.32},{"x":-1.31,"y":0.11},
{"x":-1.18,"y":-0.85},{"x":-1.23,"y":-0.41},{"x":-1.16,"y":-0.03},{"x":-1.21,"y":0.27},
{"x":-1.08,"y":-1.02},{"x":-1.13,"y":-0.64},{"x":-1.06,"y":-0.26},{"x":-1.11,"y":0.12},
{"x":-0.98,"y":-0.82},{"x":-1.03,"y":-0.35},{"x":-0.96,"y":0.04},{"x":-1.01,"y":0.27},
{"x":-0.88,"y":-0.86},{"x":-0.93,"y":-0.39},{"x":-0.86,"y":-0.08},{"x":-0.91,"y":0.39},
{"x":-0.78,"y":-0.67},{"x":-0.83,"y":-0.2},{"x":-0.76,"y":0.2},{"x":-0.81,"y":0.52},
{"x":-0.68,"y":-0.88},{"x":-0.73,"y":-0.48},{"x":-0.66,"y":-0.07},{"x":-0.71,"y":0.33},
{"x":-0.58,"y":-0.69},{"x":-0.63,"y":-0.2},{"x":-0.56,"y":0.21},{"x":-0.61,"y":0.46},
{"x":-0.48,"y":-0.74},{"x":-0.53,"y":-0.24},{"x":-0.46,"y":0.09},{"x":-0.51,"y":0.59},
{"x":-0.38,"y":-0.55},{"x":-0.43,"y":-0.06},{"x":-0.36,"y":0.36},{"x":-0.41,"y":0.69},
{"x":-0.28,"y":-0.78},{"x":-0.33,"y":-0.37},{"x":-0.26,"y":0.05},{"x":-0.31,"y":0.46},
{"x":-0.18,"y":-0.59},{"x":-0.23,"y":-0.1},{"x":-0.16,"y":0.32},{"x":-0.21,"y":0.56},
{"x":-0.08,"y":-0.66},{"x":-0.13,"y":-0.16},{"x":-0.06,"y":0.17},{"x":-0.11,"y":0.67},
{"x":0.02,"y":-0.47},{"x":-0.03,"y":0.03},{"x":0.04,"y":0.44},{"x":-0.01,"y":0.77},
{"x":0.12,"y":-0.71},{"x":0.07,"y":-0.3},{"x":0.14,"y":0.11},{"x":0.09,"y":0.51},
{"x":0.22,"y":-0.54},{"x":0.17,"y":-0.06},{"x":0.24,"y":0.35},{"x":0.19,"y":0.59},
{"x":0.32,"y":-0.61},{"x":0.27,"y":-0.13},{"x":0.34,"y":0.18},{"x":0.29,"y":0.66},
{"x":0.42,"y":-0.45},{"x":0.37,"y":0.03},{"x":0.44,"y":0.42},{"x":0.39,"y":0.73},
{"x":0.52,"y":-0.67},{"x":0.47,"y":-0.29},{"x":0.54,"y":0.1},{"x":0.49,"y":0.49},
{"x":0.62,"y":-0.46},{"x":0.57,"y":-0.01},{"x":0.64,"y":0.37},{"x":0.59,"y":0.59},
{"x":0.72,"y":-0.48},{"x":0.67,"y":-0.04},{"x":0.74,"y":0.25},{"x":0.69,"y":0.69},
{"x":0.82,"y":-0.28},{"x":0.77,"y":0.15},{"x":0.84,"y":0.5},{"x":0.79,"y":0.79},
{"x":0.92,"y":-0.44},{"x":0.87,"y":-0.09},{"x":0.94,"y":0.25},{"x":0.89,"y":0.6},
{"x":1.02,"y":-0.25},{"x":0.97,"y":0.16},{"x":1.04,"y":0.5},{"x":0.99,"y":0.7},
{"x":1.12,"y":-0.26},{"x":1.07,"y":0.14},{"x":1.14,"y":0.42},{"x":1.09,"y":0.82},
{"x":1.22,"y":-0.08},{"x":1.17,"y":0.34},{"x":1.24,"y":0.68},{"x":1.19,"y":0.95},
{"x":1.32,"y":-0.23},{"x":1.27,"y":0.11},{"x":1.34,"y":0.46},{"x":1.29,"y":0.8},
{"x":1.42,"y":-0.04},{"x":1.37,"y":0.38},{"x":1.44,"y":0.72},{"x":1.39,"y":0.93},
{"x":1.52,"y":-0.06},{"x":1.47,"y":0.36},{"x":1.54,"y":0.64},{"x":1.49,"y":1.06},
{"x":1.62,"y":0.11},{"x":1.57,"y":0.52},{"x":1.64,"y":0.85},{"x":1.59,"y":1.12},
{"x":1.72,"y":-0.06},{"x":1.67,"y":0.27},{"x":1.74,"y":0.6},{"x":1.69,"y":0.92},
{"x":1.82,"y":0.11},{"x":1.77,"y":0.48},{"x":1.84,"y":0.8},{"x":1.79,"y":0.98},
{"x":1.92,"y":0.08},{"x":1.87,"y":0.44},{"x":1.94,"y":0.68},{"x":1.89,"y":1.04},
{"x":2.02,"y":0.23},{"x":1.97,"y":0.58},{"x":2.04,"y":0.86},{"x":1.99,"y":1.09},
{"x":2.12,"y":0.17},{"x":2.07,"y":0.39},{"x":2.14,"y":0.61},{"x":2.09,"y":0.83},
{"x":2.22,"y":0.34},{"x":2.17,"y":0.52},{"x":2.24,"y":0.67},{"x":2.19,"y":0.76},
{"x":-2.15,"y":-1.2},{"x":-2.15,"y":-0.9},{"x":-2.15,"y":-0.64},
{"x":-2.05,"y":-1.13},{"x":-2.05,"y":-0.85},{"x":-2.05,"y":-0.61},
{"x":-1.95,"y":-1.12},{"x":-1.95,"y":-0.8},{"x":-1.95,"y":-0.52},
{"x":-1.85,"y":-1.05},{"x":-1.85,"y":-0.76},{"x":-1.85,"y":-0.5},
{"x":-1.75,"y":-1.04},{"x":-1.75,"y":-0.71},{"x":-1.75,"y":-0.42},
{"x":-1.65,"y":-0.98},{"x":-1.65,"y":-0.67},{"x":-1.65,"y":-0.4},
{"x":-1.55,"y":-0.97},{"x":-1.55,"y":-0.62},{"x":-1.55,"y":-0.32},
{"x":-1.45,"y":-0.89},{"x":-1.45,"y":-0.57},{"x":-1.45,"y":-0.29},
{"x":-1.35,"y":-0.86},{"x":-1.35,"y":-0.5},{"x":-1.35,"y":-0.18},
{"x":-1.25,"y":-0.78},{"x":-1.25,"y":-0.44},{"x":-1.25,"y":-0.14},
{"x":-1.15,"y":-0.75},{"x":-1.15,"y":-0.37},{"x":-1.15,"y":-0.04},
{"x":-1.05,"y":-0.66},{"x":-1.05,"y":-0.31},{"x":-1.05,"y":0.0},
{"x":-0.95,"y":-0.65},{"x":-0.95,"y":-0.26},{"x":-0.95,"y":0.09},
{"x":-0.85,"y":-0.58},{"x":-0.85,"y":-0.22},{"x":-0.85,"y":0.1},
{"x":-0.75,"y":-0.58},{"x":-0.75,"y":-0.18},{"x":-0.75,"y":0.18},
{"x":-0.65,"y":-0.51},{"x":-0.65,"y":-0.14},{"x":-0.65,"y":0.19},
{"x":-0.55,"y":-0.51},{"x":-0.55,"y":-0.1},{"x":-0.55,"y":0.27},
{"x":-0.45,"y":-0.45},{"x":-0.45,"y":-0.07},{"x":-0.45,"y":0.27},
{"x":-0.35,"y":-0.46},{"x":-0.35,"y":-0.05},{"x":-0.35,"y":0.32},
{"x":-0.25,"y":-0.41},{"x":-0.25,"y":-0.03},{"x":-0.25,"y":0.31},
{"x":-0.15,"y":-0.42},{"x":-0.15,"y":-0.01},{"x":-0.15,"y":0.36},
{"x":-0.05,"y":-0.37},{"x":-0.05,"y":0.01},{"x":-0.05,"y":0.35},
{"x":0.05,"y":-0.39},{"x":0.05,"y":0.03},{"x":0.05,"y":0.39},
{"x":0.15,"y":-0.35},{"x":0.15,"y":0.03},{"x":0.15,"y":0.35},
{"x":0.25,"y":-0.38},{"x":0.25,"y":0.03},{"x":0.25,"y":0.38},
{"x":0.35,"y":-0.34},{"x":0.35,"y":0.03},{"x":0.35,"y":0.34},
{"x":0.45,"y":-0.37},{"x":0.45,"y":0.03},{"x":0.45,"y":0.37},
{"x":0.55,"y":-0.31},{"x":0.55,"y":0.05},{"x":0.55,"y":0.35},
{"x":0.65,"y":-0.29},{"x":0.65,"y":0.09},{"x":0.65,"y":0.41},
{"x":0.75,"y":-0.21},{"x":0.75,"y":0.13},{"x":0.75,"y":0.41},
{"x":0.85,"y":-0.19},{"x":0.85,"y":0.17},{"x":0.85,"y":0.48},
{"x":0.95,"y":-0.11},{"x":0.95,"y":0.21},{"x":0.95,"y":0.48},
{"x":1.05,"y":-0.09},{"x":1.05,"y":0.25},{"x":1.05,"y":0.55},
{"x":1.15,"y":0.0},{"x":1.15,"y":0.31},{"x":1.15,"y":0.58},
{"x":1.25,"y":0.02},{"x":1.25,"y":0.36},{"x":1.25,"y":0.67},
{"x":1.35,"y":0.1},{"x":1.35,"y":0.42},{"x":1.35,"y":0.69},
{"x":1.45,"y":0.12},{"x":1.45,"y":0.47},{"x":1.45,"y":0.78},
{"x":1.55,"y":0.19},{"x":1.55,"y":0.51},{"x":1.55,"y":0.78},
{"x":1.65,"y":0.19},{"x":1.65,"y":0.52},{"x":1.65,"y":0.81},
{"x":1.75,"y":0.25},{"x":1.75,"y":0.54},{"x":1.75,"y":0.79},
{"x":1.85,"y":0.25},{"x":1.85,"y":0.55},{"x":1.85,"y":0.82},
{"x":1.95,"y":0.3},{"x":1.95,"y":0.57},{"x":1.95,"y":0.8},
{"x":2.05,"y":0.32},{"x":2.05,"y":0.57},{"x":2.05,"y":0.79},
{"x":2.15,"y":0.4},{"x":2.15,"y":0.56},{"x":2.15,"y":0.69},
{"x":-1.75,"y":-0.7},{"x":-1.45,"y":-0.5},{"x":-1.15,"y":-0.5},{"x":-0.85,"y":-0.3},{"x":-0.55,"y":-0.25},{"x":-0.25,"y":-0.05},{"x":0.05,"y":0.05},{"x":0.35,"y":0.1},{"x":0.65,"y":0.25},{"x":0.95,"y":0.3},{"x":1.25,"y":0.45},{"x":1.55,"y":0.55},{"x":1.85,"y":0.65},{"x":2.05,"y":0.7}
],
"smsOut": [
{"x":-4.21,"y":-1.78},{"x":-4.21,"y":-2.22},{"x":-4.05,"y":-2.13},{"x":-3.84,"y":-2.18},{"x":-3.56,"y":-1.39},{"x":-3.47,"y":-1.92},{"x":-3.31,"y":-0.94},{"x":-3.17,"y":-0.99},{"x":-3.23,"y":-1.47},{"x":-3.33,"y":-1.87},{"x":-3.2,"y":-2.0},{"x":-3.04,"y":-1.74},{"x":-3.07,"y":-2.05},{"x":-3.03,"y":-0.66},{"x":-2.94,"y":-1.39},{"x":-2.78,"y":-0.77},{"x":-2.78,"y":-1.39},{"x":-2.83,"y":-1.83},{"x":-2.67,"y":-1.87},{"x":-2.59,"y":-1.21},{"x":-2.46,"y":-1.92},{"x":-2.46,"y":-1.47},{"x":-2.57,"y":-0.59},{"x":-2.3,"y":-0.33},{"x":-2.33,"y":-0.86},{"x":-2.17,"y":-1.74},{"x":-2.14,"y":-1.3},{"x":-1.77,"y":-0.02},{"x":-1.93,"y":-0.24},{"x":-1.35,"y":-1.3},{"x":0.13,"y":1.13},{"x":0.45,"y":1.13},{"x":1.11,"y":1.04},{"x":1.67,"y":1.39},{"x":2.35,"y":1.39},{"x":2.64,"y":1.3},{"x":-0.87,"y":0.78},{"x":-0.26,"y":0.91},{"x":-1.03,"y":-1.03},{"x":-0.61,"y":-0.77},{"x":0.0,"y":-0.77},{"x":0.61,"y":-0.94},{"x":1.11,"y":-0.24},{"x":1.45,"y":-0.15},{"x":2.04,"y":0.2},{"x":-2.7,"y":-1.1},{"x":-2.9,"y":-1.6},{"x":-2.4,"y":-1.2},{"x":-3.1,"y":-1.25}
]
},
"concat": [
{
 "width": 553, "height": 294,
 "resolve": {"axis": {"x": "independent", "y": "independent"}},
 "layer": [
  {"data": {"name": "kwt"},
   "mark": {"type": "point", "shape": "M-1,0H1M0,-1V1", "filled": false, "size": 165, "strokeWidth": 2.6, "color": "#A0522D", "opacity": 1},
   "encoding": {
    "x": {"field": "x", "type": "quantitative", "scale": {"domain": [-4.9, 3.9], "nice": false, "zero": false},
          "axis": {"orient": "top", "values": [-4.5,-4,-3.5,-3,-2.5,-2,-1.5,-1,-0.5,0,0.5,1,1.5,2,2.5,3,3.5], "tickSize": {"condition": {"test": "datum.value % 1 === 0", "value": -11}, "value": -6}, "labelExpr": "datum.value % 1 ? '' : replace(format(datum.value, 'd'), '-', '−')", "labelPadding": 14, "title": "HNM CRI (%)", "titleFontSize": 22, "titlePadding": 14}},
    "y": {"field": "y", "type": "quantitative", "scale": {"domain": [-3.9, 3.9], "nice": false, "zero": false},
          "axis": {"orient": "left", "values": [-3.5,-3,-2.5,-2,-1.5,-1,-0.5,0,0.5,1,1.5,2,2.5,3,3.5], "tickSize": {"condition": {"test": "datum.value % 1 === 0", "value": -11}, "value": -6}, "labelExpr": "datum.value % 1 ? '' : replace(format(datum.value, 'd'), '-', '−')", "labelPadding": 17, "title": "KWT VDC MSS ΔITPC (%)", "titlePadding": 20}}
   }},
  {"data": {"name": "kwtOut"},
   "mark": {"type": "point", "shape": "M-1,0H1M0,-1V1", "filled": false, "size": 150, "strokeWidth": 2, "color": "#A0522D", "opacity": 1},
   "encoding": {"x": {"field": "x", "type": "quantitative", "axis": null}, "y": {"field": "y", "type": "quantitative", "axis": null}}},
  {"data": {"values": [{"x": -2.3, "y": -0.933}, {"x": 2.2, "y": 0.858}]},
   "mark": {"type": "line", "color": "white", "strokeWidth": 5},
   "encoding": {
    "x": {"field": "x", "type": "quantitative", "axis": {"orient": "bottom", "values": [-4.5,-4,-3.5,-3,-2.5,-2,-1.5,-1,-0.5,0,0.5,1,1.5,2,2.5,3,3.5], "tickSize": {"condition": {"test": "datum.value % 1 === 0", "value": -11}, "value": -6}, "labels": false, "title": null, "grid": true, "gridDash": [1.5, 2.5], "gridWidth": 1.2, "gridColor": {"condition": {"test": "datum.value === 0", "value": "#555555"}, "value": "#b0b0b0"}, "gridOpacity": {"condition": {"test": "datum.value % 1 === 0", "value": 1}, "value": 0}}},
    "y": {"field": "y", "type": "quantitative", "axis": {"orient": "right", "values": [-3.5,-3,-2.5,-2,-1.5,-1,-0.5,0,0.5,1,1.5,2,2.5,3,3.5], "tickSize": {"condition": {"test": "datum.value % 1 === 0", "value": -11}, "value": -6}, "labels": false, "title": null, "grid": true, "gridDash": [1.5, 2.5], "gridWidth": 1.2, "gridColor": {"condition": {"test": "datum.value === 0", "value": "#555555"}, "value": "#b0b0b0"}, "gridOpacity": {"condition": {"test": "datum.value % 1 === 0", "value": 1}, "value": 0}}}
   }},
  {"data": {"values": [{"x": -4.9, "y": -1.968}, {"x": 3.9, "y": 1.534}]},
   "mark": {"type": "line", "color": "black", "strokeWidth": 2.2, "strokeDash": [7, 4]},
   "encoding": {"x": {"field": "x", "type": "quantitative", "axis": null}, "y": {"field": "y", "type": "quantitative", "axis": null}}},
  {"data": {"values": [{"site": "KWT"}]},
   "mark": {"type": "rect", "fill": "#A0522D", "stroke": "black", "strokeWidth": 2.5},
   "encoding": {"x": {"datum": 2.7, "type": "quantitative", "axis": null}, "x2": {"datum": 3.9}, "y": {"datum": -2.89, "type": "quantitative", "axis": null}, "y2": {"datum": -3.9}}},
  {"data": {"values": [{"site": "KWT"}]},
   "mark": {"type": "text", "font": "Lato", "fontWeight": "bold", "fontSize": 20, "color": "white"},
   "encoding": {"x": {"datum": 3.29, "type": "quantitative", "axis": null}, "y": {"datum": -3.4, "type": "quantitative", "axis": null}, "text": {"field": "site"}}}
 ]
},
{
 "width": 550, "height": 294,
 "resolve": {"axis": {"x": "independent", "y": "independent"}},
 "layer": [
  {"data": {"name": "ngy"},
   "mark": {"type": "point", "shape": "M-1,0H1M0,-1V1", "filled": false, "size": 165, "strokeWidth": 2.6, "color": "#FF0000", "opacity": 1},
   "encoding": {
    "x": {"field": "x", "type": "quantitative", "scale": {"domain": [-4.9, 3.9], "nice": false, "zero": false},
          "axis": {"orient": "top", "values": [-4.5,-4,-3.5,-3,-2.5,-2,-1.5,-1,-0.5,0,0.5,1,1.5,2,2.5,3,3.5], "tickSize": {"condition": {"test": "datum.value % 1 === 0", "value": -11}, "value": -6}, "labelExpr": "datum.value % 1 ? '' : replace(format(datum.value, 'd'), '-', '−')", "labelPadding": 14, "title": "HNM CRI (%)", "titleFontSize": 22, "titlePadding": 14}},
    "y": {"field": "y", "type": "quantitative", "scale": {"domain": [-3.9, 3.9], "nice": false, "zero": false},
          "axis": {"orient": "right", "values": [-3.5,-3,-2.5,-2,-1.5,-1,-0.5,0,0.5,1,1.5,2,2.5,3,3.5], "tickSize": {"condition": {"test": "datum.value % 1 === 0", "value": -11}, "value": -6}, "labelExpr": "datum.value % 1 ? '' : replace(format(datum.value, 'd'), '-', '−')", "labelPadding": 18, "title": "NGY VDC MSS ΔITPC (%)", "titleAngle": 270, "titleBaseline": "top", "titlePadding": 7}}
   }},
  {"data": {"name": "ngyOut"},
   "mark": {"type": "point", "shape": "M-1,0H1M0,-1V1", "filled": false, "size": 150, "strokeWidth": 2, "color": "#FF0000", "opacity": 1},
   "encoding": {"x": {"field": "x", "type": "quantitative", "axis": null}, "y": {"field": "y", "type": "quantitative", "axis": null}}},
  {"data": {"values": [{"x": -2.5, "y": -1.046}, {"x": 2.3, "y": 0.918}]},
   "mark": {"type": "line", "color": "white", "strokeWidth": 5},
   "encoding": {
    "x": {"field": "x", "type": "quantitative", "axis": {"orient": "bottom", "values": [-4.5,-4,-3.5,-3,-2.5,-2,-1.5,-1,-0.5,0,0.5,1,1.5,2,2.5,3,3.5], "tickSize": {"condition": {"test": "datum.value % 1 === 0", "value": -11}, "value": -6}, "labels": false, "title": null, "grid": true, "gridDash": [1.5, 2.5], "gridWidth": 1.2, "gridColor": {"condition": {"test": "datum.value === 0", "value": "#555555"}, "value": "#b0b0b0"}, "gridOpacity": {"condition": {"test": "datum.value % 1 === 0", "value": 1}, "value": 0}}},
    "y": {"field": "y", "type": "quantitative", "axis": {"orient": "left", "values": [-3.5,-3,-2.5,-2,-1.5,-1,-0.5,0,0.5,1,1.5,2,2.5,3,3.5], "tickSize": {"condition": {"test": "datum.value % 1 === 0", "value": -11}, "value": -6}, "labels": false, "title": null, "grid": true, "gridDash": [1.5, 2.5], "gridWidth": 1.2, "gridColor": {"condition": {"test": "datum.value === 0", "value": "#555555"}, "value": "#b0b0b0"}, "gridOpacity": {"condition": {"test": "datum.value % 1 === 0", "value": 1}, "value": 0}}}
   }},
  {"data": {"values": [{"x": -4.9, "y": -2.027}, {"x": 3.9, "y": 1.572}]},
   "mark": {"type": "line", "color": "black", "strokeWidth": 2.2, "strokeDash": [7, 4]},
   "encoding": {"x": {"field": "x", "type": "quantitative", "axis": null}, "y": {"field": "y", "type": "quantitative", "axis": null}}},
  {"data": {"values": [{"site": "NGY"}]},
   "mark": {"type": "rect", "fill": "#FF0000", "stroke": "black", "strokeWidth": 2.5},
   "encoding": {"x": {"datum": -4.9, "type": "quantitative", "axis": null}, "x2": {"datum": -3.69}, "y": {"datum": -2.89, "type": "quantitative", "axis": null}, "y2": {"datum": -3.9}}},
  {"data": {"values": [{"site": "NGY"}]},
   "mark": {"type": "text", "font": "Lato", "fontWeight": "bold", "fontSize": 20, "color": "white"},
   "encoding": {"x": {"datum": -4.3, "type": "quantitative", "axis": null}, "y": {"datum": -3.4, "type": "quantitative", "axis": null}, "text": {"field": "site"}}},
  {"data": {"values": [{"label": "Northern Hemisphere"}]},
   "mark": {"type": "rect", "fill": "white", "stroke": "black", "strokeWidth": 1.5},
   "encoding": {"x": {"datum": 5.24, "type": "quantitative", "axis": null}, "x2": {"datum": 5.87}, "y": {"datum": 3.19, "type": "quantitative", "axis": null}, "y2": {"datum": -3.16}}},
  {"data": {"values": [{"label": "Northern Hemisphere"}]},
   "mark": {"type": "text", "font": "DejaVu Sans", "fontSize": 19.5, "color": "black", "angle": 270},
   "encoding": {"x": {"datum": 5.57, "type": "quantitative", "axis": null}, "y": {"datum": 0, "type": "quantitative", "axis": null}, "text": {"field": "label"}}}
 ]
},
{
 "width": 553, "height": 295,
 "resolve": {"axis": {"x": "independent", "y": "independent"}},
 "layer": [
  {"data": {"name": "hbt"},
   "mark": {"type": "point", "shape": "M-1,0H1M0,-1V1", "filled": false, "size": 165, "strokeWidth": 2.6, "color": "#0000FF", "opacity": 1},
   "encoding": {
    "x": {"field": "x", "type": "quantitative", "scale": {"domain": [-4.9, 3.9], "nice": false, "zero": false},
          "axis": {"orient": "bottom", "values": [-4.5,-4,-3.5,-3,-2.5,-2,-1.5,-1,-0.5,0,0.5,1,1.5,2,2.5,3,3.5], "tickSize": {"condition": {"test": "datum.value % 1 === 0", "value": -11}, "value": -6}, "labelExpr": "datum.value % 1 ? '' : replace(format(datum.value, 'd'), '-', '−')", "labelPadding": 22, "title": "HNM CRI (%)", "titleFontSize": 22, "titlePadding": 2.5}},
    "y": {"field": "y", "type": "quantitative", "scale": {"domain": [-3.9, 3.9], "nice": false, "zero": false},
          "axis": {"orient": "left", "values": [-3.5,-3,-2.5,-2,-1.5,-1,-0.5,0,0.5,1,1.5,2,2.5,3,3.5], "tickSize": {"condition": {"test": "datum.value % 1 === 0", "value": -11}, "value": -6}, "labelExpr": "datum.value % 1 ? '' : replace(format(datum.value, 'd'), '-', '−')", "labelPadding": 17, "title": "HBT VDC MSS ΔITPC (%)", "titlePadding": 20}}
   }},
  {"data": {"name": "hbtOut"},
   "mark": {"type": "point", "shape": "M-1,0H1M0,-1V1", "filled": false, "size": 150, "strokeWidth": 2, "color": "#0000FF", "opacity": 1},
   "encoding": {"x": {"field": "x", "type": "quantitative", "axis": null}, "y": {"field": "y", "type": "quantitative", "axis": null}}},
  {"data": {"values": [{"x": -2.3, "y": -1.448}, {"x": 2.2, "y": 1.27}]},
   "mark": {"type": "line", "color": "white", "strokeWidth": 5},
   "encoding": {
    "x": {"field": "x", "type": "quantitative", "axis": {"orient": "top", "values": [-4.5,-4,-3.5,-3,-2.5,-2,-1.5,-1,-0.5,0,0.5,1,1.5,2,2.5,3,3.5], "tickSize": {"condition": {"test": "datum.value % 1 === 0", "value": -11}, "value": -6}, "labels": false, "title": null, "grid": true, "gridDash": [1.5, 2.5], "gridWidth": 1.2, "gridColor": {"condition": {"test": "datum.value === 0", "value": "#555555"}, "value": "#b0b0b0"}, "gridOpacity": {"condition": {"test": "datum.value % 1 === 0", "value": 1}, "value": 0}}},
    "y": {"field": "y", "type": "quantitative", "axis": {"orient": "right", "values": [-3.5,-3,-2.5,-2,-1.5,-1,-0.5,0,0.5,1,1.5,2,2.5,3,3.5], "tickSize": {"condition": {"test": "datum.value % 1 === 0", "value": -11}, "value": -6}, "labels": false, "title": null, "grid": true, "gridDash": [1.5, 2.5], "gridWidth": 1.2, "gridColor": {"condition": {"test": "datum.value === 0", "value": "#555555"}, "value": "#b0b0b0"}, "gridOpacity": {"condition": {"test": "datum.value % 1 === 0", "value": 1}, "value": 0}}}
   }},
  {"data": {"values": [{"x": -4.9, "y": -3.019}, {"x": 3.9, "y": 2.297}]},
   "mark": {"type": "line", "color": "black", "strokeWidth": 2.2, "strokeDash": [7, 4]},
   "encoding": {"x": {"field": "x", "type": "quantitative", "axis": null}, "y": {"field": "y", "type": "quantitative", "axis": null}}},
  {"data": {"values": [{"site": "HBT"}]},
   "mark": {"type": "rect", "fill": "#0000FF", "stroke": "black", "strokeWidth": 2.5},
   "encoding": {"x": {"datum": 2.7, "type": "quantitative", "axis": null}, "x2": {"datum": 3.9}, "y": {"datum": 3.9, "type": "quantitative", "axis": null}, "y2": {"datum": 2.9}}},
  {"data": {"values": [{"site": "HBT"}]},
   "mark": {"type": "text", "font": "Lato", "fontWeight": "bold", "fontSize": 20, "color": "white"},
   "encoding": {"x": {"datum": 3.29, "type": "quantitative", "axis": null}, "y": {"datum": 3.4, "type": "quantitative", "axis": null}, "text": {"field": "site"}}},
  {"data": {"values": [{"site": "KWT"}]},
   "mark": {"type": "rect", "fill": "#A0522D"},
   "encoding": {"x": {"datum": -6.7, "type": "quantitative", "axis": null}, "x2": {"datum": -1.256}, "y": {"datum": -5.82, "type": "quantitative", "axis": null}, "y2": {"datum": -7.95}}},
  {"data": {"values": [{"site": "HBT"}]},
   "mark": {"type": "rect", "fill": "#0000EE"},
   "encoding": {"x": {"datum": -1.256, "type": "quantitative", "axis": null}, "x2": {"datum": 4.09}, "y": {"datum": -5.82, "type": "quantitative", "axis": null}, "y2": {"datum": -7.95}}},
  {"data": {"values": [{"eq": "Y = - 0.018 + 0.398*X\nR-HNM = + 0.834"}]},
   "mark": {"type": "text", "font": "Lato", "fontWeight": "bold", "fontSize": 27, "color": "white", "lineBreak": "\n", "lineHeight": 36},
   "encoding": {"x": {"datum": -3.94, "type": "quantitative", "axis": null}, "y": {"datum": -6.5, "type": "quantitative", "axis": null}, "text": {"field": "eq"}}},
  {"data": {"values": [{"eq": "Y = - 0.059 + 0.604*X\nR-HNM = + 0.878"}]},
   "mark": {"type": "text", "font": "Lato", "fontWeight": "bold", "fontSize": 27, "color": "white", "lineBreak": "\n", "lineHeight": 36},
   "encoding": {"x": {"datum": 1.42, "type": "quantitative", "axis": null}, "y": {"datum": -6.5, "type": "quantitative", "axis": null}, "text": {"field": "eq"}}}
 ]
},
{
 "width": 550, "height": 295,
 "resolve": {"axis": {"x": "independent", "y": "independent"}},
 "layer": [
  {"data": {"name": "sms"},
   "mark": {"type": "point", "shape": "M-1,0H1M0,-1V1", "filled": false, "size": 165, "strokeWidth": 2.6, "color": "#006400", "opacity": 1},
   "encoding": {
    "x": {"field": "x", "type": "quantitative", "scale": {"domain": [-4.9, 3.9], "nice": false, "zero": false},
          "axis": {"orient": "bottom", "values": [-4.5,-4,-3.5,-3,-2.5,-2,-1.5,-1,-0.5,0,0.5,1,1.5,2,2.5,3,3.5], "tickSize": {"condition": {"test": "datum.value % 1 === 0", "value": -11}, "value": -6}, "labelExpr": "datum.value % 1 ? '' : replace(format(datum.value, 'd'), '-', '−')", "labelPadding": 22, "title": "HNM CRI (%)", "titleFontSize": 22, "titlePadding": 2.5}},
    "y": {"field": "y", "type": "quantitative", "scale": {"domain": [-3.9, 3.9], "nice": false, "zero": false},
          "axis": {"orient": "right", "values": [-3.5,-3,-2.5,-2,-1.5,-1,-0.5,0,0.5,1,1.5,2,2.5,3,3.5], "tickSize": {"condition": {"test": "datum.value % 1 === 0", "value": -11}, "value": -6}, "labelExpr": "datum.value % 1 ? '' : replace(format(datum.value, 'd'), '-', '−')", "labelPadding": 18, "title": "SMS VDC MSS ΔITPC (%)", "titleAngle": 270, "titleBaseline": "top", "titlePadding": 7}}
   }},
  {"data": {"name": "smsOut"},
   "mark": {"type": "point", "shape": "M-1,0H1M0,-1V1", "filled": false, "size": 150, "strokeWidth": 2, "color": "#006400", "opacity": 1},
   "encoding": {"x": {"field": "x", "type": "quantitative", "axis": null}, "y": {"field": "y", "type": "quantitative", "axis": null}}},
  {"data": {"values": [{"x": -2.2, "y": -0.83}, {"x": 2.2, "y": 0.79}]},
   "mark": {"type": "line", "color": "white", "strokeWidth": 5},
   "encoding": {
    "x": {"field": "x", "type": "quantitative", "axis": {"orient": "top", "values": [-4.5,-4,-3.5,-3,-2.5,-2,-1.5,-1,-0.5,0,0.5,1,1.5,2,2.5,3,3.5], "tickSize": {"condition": {"test": "datum.value % 1 === 0", "value": -11}, "value": -6}, "labels": false, "title": null, "grid": true, "gridDash": [1.5, 2.5], "gridWidth": 1.2, "gridColor": {"condition": {"test": "datum.value === 0", "value": "#555555"}, "value": "#b0b0b0"}, "gridOpacity": {"condition": {"test": "datum.value % 1 === 0", "value": 1}, "value": 0}}},
    "y": {"field": "y", "type": "quantitative", "axis": {"orient": "left", "values": [-3.5,-3,-2.5,-2,-1.5,-1,-0.5,0,0.5,1,1.5,2,2.5,3,3.5], "tickSize": {"condition": {"test": "datum.value % 1 === 0", "value": -11}, "value": -6}, "labels": false, "title": null, "grid": true, "gridDash": [1.5, 2.5], "gridWidth": 1.2, "gridColor": {"condition": {"test": "datum.value === 0", "value": "#555555"}, "value": "#b0b0b0"}, "gridOpacity": {"condition": {"test": "datum.value % 1 === 0", "value": 1}, "value": 0}}}
   }},
  {"data": {"values": [{"x": -4.9, "y": -1.823}, {"x": 3.9, "y": 1.415}]},
   "mark": {"type": "line", "color": "black", "strokeWidth": 2.2, "strokeDash": [7, 4]},
   "encoding": {"x": {"field": "x", "type": "quantitative", "axis": null}, "y": {"field": "y", "type": "quantitative", "axis": null}}},
  {"data": {"values": [{"site": "SMS"}]},
   "mark": {"type": "rect", "fill": "#006400", "stroke": "black", "strokeWidth": 2.5},
   "encoding": {"x": {"datum": -4.9, "type": "quantitative", "axis": null}, "x2": {"datum": -3.69}, "y": {"datum": 3.9, "type": "quantitative", "axis": null}, "y2": {"datum": 2.9}}},
  {"data": {"values": [{"site": "SMS"}]},
   "mark": {"type": "text", "font": "Lato", "fontWeight": "bold", "fontSize": 20, "color": "white"},
   "encoding": {"x": {"datum": -4.3, "type": "quantitative", "axis": null}, "y": {"datum": 3.4, "type": "quantitative", "axis": null}, "text": {"field": "site"}}},
  {"data": {"values": [{"label": "Southern Hemisphere"}]},
   "mark": {"type": "rect", "fill": "white", "stroke": "black", "strokeWidth": 1.5},
   "encoding": {"x": {"datum": 5.24, "type": "quantitative", "axis": null}, "x2": {"datum": 5.87}, "y": {"datum": 3.17, "type": "quantitative", "axis": null}, "y2": {"datum": -3.14}}},
  {"data": {"values": [{"label": "Southern Hemisphere"}]},
   "mark": {"type": "text", "font": "DejaVu Sans", "fontSize": 19.5, "color": "black", "angle": 270},
   "encoding": {"x": {"datum": 5.57, "type": "quantitative", "axis": null}, "y": {"datum": 0, "type": "quantitative", "axis": null}, "text": {"field": "label"}}},
  {"data": {"values": [{"site": "NGY"}]},
   "mark": {"type": "rect", "fill": "#EE0000"},
   "encoding": {"x": {"datum": -4.71, "type": "quantitative", "axis": null}, "x2": {"datum": 0.636}, "y": {"datum": -5.82, "type": "quantitative", "axis": null}, "y2": {"datum": -7.95}}},
  {"data": {"values": [{"site": "SMS"}]},
   "mark": {"type": "rect", "fill": "#006400"},
   "encoding": {"x": {"datum": 0.636, "type": "quantitative", "axis": null}, "x2": {"datum": 6.0}, "y": {"datum": -5.82, "type": "quantitative", "axis": null}, "y2": {"datum": -7.95}}},
  {"data": {"values": [{"eq": "Y = - 0.023 + 0.409*X\nR-HNM = + 0.850"}]},
   "mark": {"type": "text", "font": "Lato", "fontWeight": "bold", "fontSize": 27, "color": "white", "lineBreak": "\n", "lineHeight": 36},
   "encoding": {"x": {"datum": -2.04, "type": "quantitative", "axis": null}, "y": {"datum": -6.5, "type": "quantitative", "axis": null}, "text": {"field": "eq"}}},
  {"data": {"values": [{"eq": "Y = - 0.020 + 0.368*X\nR-HNM = + 0.783"}]},
   "mark": {"type": "text", "font": "Lato", "fontWeight": "bold", "fontSize": 27, "color": "white", "lineBreak": "\n", "lineHeight": 36, "align": "left"},
   "encoding": {"x": {"datum": 1.66, "type": "quantitative", "axis": null}, "y": {"datum": -6.5, "type": "quantitative", "axis": null}, "text": {"field": "eq"}}}
 ]
}
]
}
